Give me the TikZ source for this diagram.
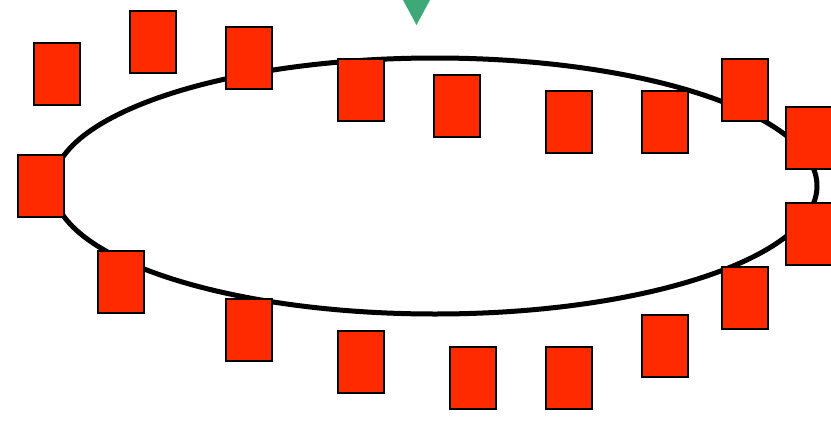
\documentclass[tikz,border=0pt]{standalone}
\usetikzlibrary{shapes.geometric}
\definecolor{boxred}{RGB}{255,42,0}
\definecolor{marker}{RGB}{62,168,120}
\begin{document}
\begin{tikzpicture}[x=1pt,y=-1pt,
  card/.style={draw=black,fill=boxred,line width=2pt,minimum width=46pt,minimum height=62pt,inner sep=0pt,outer sep=0pt}]
\useasboundingbox (0,0) rectangle (831,421);
\node[draw=black,line width=5pt,ellipse,minimum width=764pt,minimum height=256pt,inner sep=0pt] (ring) at (435,186) {};
\fill[marker] (403,0) -- (430,0) -- (416.5,25) -- cycle;
\coordinate (tip) at (416.5,25);
\foreach \n/\x/\y in {c1/57/74,c2/153/42,c3/249/58,c4/361/90,c5/457/106,c6/569/122,c7/665/122,c8/745/90,c9/809/138,c10/809/234,c11/745/298,c12/665/346,c13/569/378,c14/473/378,c15/361/362,c16/249/330,c17/121/282,c18/41/186}
  \node[card] (\n) at (\x,\y) {};
\end{tikzpicture}
\end{document}
